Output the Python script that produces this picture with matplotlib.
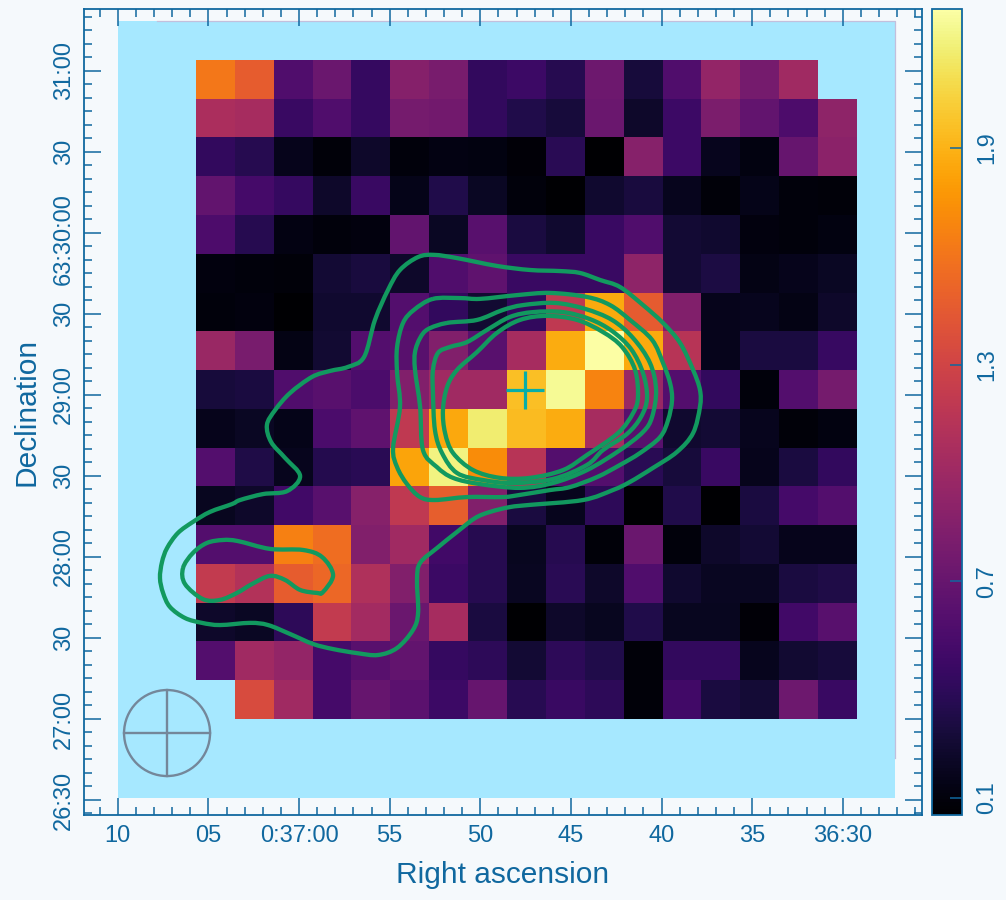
import numpy as np
import matplotlib
matplotlib.use('Agg')
import matplotlib.pyplot as plt
from matplotlib.patches import Ellipse, Rectangle, PathPatch
from matplotlib.path import Path
from matplotlib.transforms import ScaledTranslation

plt.rcParams['font.family'] = ['Liberation Sans', 'DejaVu Sans']

n = np.nan
# flux per cell, top row first
row00 = [1.62, 1.47, 0.58, 0.72, 0.44, 0.87, 0.80, 0.42, 0.48, 0.36, 0.74, 0.28, 0.58, 0.95, 0.78, 1.02, n]
row01 = [1.08, 1.05, 0.46, 0.58, 0.44, 0.78, 0.76, 0.42, 0.34, 0.28, 0.72, 0.22, 0.48, 0.82, 0.68, 0.56, 0.92]
row02 = [0.42, 0.36, 0.16, 0.09, 0.22, 0.10, 0.13, 0.12, 0.08, 0.38, 0.05, 0.88, 0.48, 0.17, 0.12, 0.70, 0.90]
row03 = [0.68, 0.52, 0.44, 0.22, 0.46, 0.15, 0.34, 0.20, 0.10, 0.05, 0.24, 0.29, 0.17, 0.09, 0.15, 0.10, 0.09]
row04 = [0.56, 0.36, 0.13, 0.10, 0.11, 0.68, 0.20, 0.62, 0.30, 0.24, 0.46, 0.58, 0.26, 0.24, 0.11, 0.10, 0.12]
row05 = [0.11, 0.10, 0.09, 0.26, 0.29, 0.22, 0.58, 0.66, 0.46, 0.46, 0.46, 0.92, 0.26, 0.31, 0.14, 0.16, 0.20]
row06 = [0.10, 0.11, 0.05, 0.24, 0.24, 0.60, 0.42, 0.25, 0.42, 1.20, 1.86, 1.46, 0.85, 0.16, 0.17, 0.14, 0.22]
row07 = [0.98, 0.80, 0.14, 0.25, 0.60, 0.62, 0.85, 0.62, 1.05, 1.87, 2.28, 1.86, 1.15, 0.16, 0.30, 0.30, 0.45]
row08 = [0.28, 0.30, 0.58, 0.62, 0.55, 0.85, 1.02, 1.02, 1.96, 2.25, 1.68, 0.98, 0.60, 0.42, 0.10, 0.60, 0.78]
row09 = [0.16, 0.20, 0.15, 0.55, 0.66, 1.20, 1.85, 2.17, 1.94, 1.87, 1.05, 0.62, 0.24, 0.26, 0.17, 0.09, 0.12]
row10 = [0.60, 0.33, 0.17, 0.35, 0.38, 1.84, 2.20, 1.72, 1.15, 0.60, 0.60, 0.38, 0.28, 0.46, 0.16, 0.30, 0.42]
row11 = [0.18, 0.22, 0.50, 0.62, 0.88, 1.20, 1.48, 0.85, 0.30, 0.17, 0.40, 0.05, 0.34, 0.05, 0.30, 0.52, 0.60]
row12 = [0.60, 0.60, 1.66, 1.57, 0.85, 1.02, 0.50, 0.36, 0.18, 0.36, 0.09, 0.72, 0.10, 0.22, 0.26, 0.16, 0.16]
row13 = [1.22, 1.12, 1.47, 1.53, 1.10, 0.85, 0.47, 0.36, 0.19, 0.38, 0.22, 0.58, 0.24, 0.19, 0.19, 0.30, 0.33]
row14 = [0.22, 0.20, 0.40, 1.22, 1.03, 0.72, 1.05, 0.30, 0.05, 0.22, 0.18, 0.34, 0.18, 0.18, 0.08, 0.50, 0.62]
row15 = [0.60, 1.02, 0.95, 0.52, 0.62, 0.68, 0.44, 0.40, 0.26, 0.40, 0.34, 0.09, 0.42, 0.42, 0.17, 0.25, 0.28]
row16 = [n, 1.36, 1.02, 0.52, 0.70, 0.64, 0.48, 0.70, 0.37, 0.46, 0.40, 0.09, 0.50, 0.30, 0.27, 0.74, 0.46]
flux = np.array([row00, row01, row02, row03, row04, row05, row06, row07, row08, row09,
                 row10, row11, row12, row13, row14, row15, row16])

# contours: RA in seconds from 0:37:00, Dec in arcsec from 63:26:30
c1_ra = [-4.91, -5.57, -6.57, -7.45, -8.72, -10.92, -12.74, -14.40, -15.50, -16.61, -17.71, -18.98, -20.08,
         -21.02, -21.74, -22.12, -22.12, -21.74, -20.85, -19.53, -18.26, -17.32, -15.67, -12.74, -11.64,
         -10.54, -9.71, -8.72, -7.61, -6.68, -6.51, -6.57, -6.29, -5.41, -4.36, -3.20, -1.88, -0.77, 0.50,
         1.71, 2.70, 4.36, 5.35, 6.29, 7.12, 7.50, 7.67, 7.56, 7.28, 6.68, 5.85, 4.91, 3.70, 3.25, 1.99,
         0.66, -0.06, 0.77, 1.54, 1.77, 1.32, 0.50, -0.72, -1.71, -2.70, -3.59, -4.19, -4.91]
c1_dec = [188.9, 196.3, 201.1, 201.9, 200.7, 197.8, 196.3, 195.9, 195.2, 192.6, 190.0, 183.3, 176.7,
          169.3, 159.3, 151.9, 145.6, 135.9, 128.9, 123.0, 117.8, 114.8, 111.1, 109.3, 108.5,
          106.7, 104.4, 99.3, 93.3, 87.8, 81.5, 69.3, 63.0, 56.3, 53.7, 54.4, 55.9, 57.8, 61.5,
          64.8, 65.6, 64.8, 65.6, 67.4, 71.5, 76.7, 82.2, 88.1, 93.3, 98.9, 103.0, 106.7, 109.6, 111.1, 113.3,
          114.4, 120.0, 126.7, 132.6, 138.9, 144.4, 150.7, 156.7, 158.9, 160.4, 164.1, 177.8, 188.9]
c2_ra = [-7.39, -8.88, -9.99, -12.03, -13.85, -15.89, -17.16, -18.26, -19.48, -20.08, -20.47, -20.58, -20.36,
         -19.92, -18.81, -17.71, -16.44, -14.95, -13.85, -12.19, -11.25, -9.27, -7.50, -6.68, -5.96, -5.41,
         -5.19, -5.57, -5.41, -5.41, -5.74, -6.34, -7.39]
c2_dec = [185.6, 185.9, 185.6, 187.0, 187.8, 186.3, 183.3, 177.8, 170.4, 161.9, 154.4, 148.1, 140.7,
          134.4, 128.5, 124.1, 119.6, 115.9, 114.8, 113.0, 112.2, 112.2, 111.1, 112.2, 117.0, 123.3,
          130.4, 145.6, 158.1, 167.8, 176.7, 181.5, 185.6]
c3_ra = [-8.17, -9.82, -11.25, -12.36, -14.12, -15.78, -17.27, -18.43, -19.36, -19.70, -19.48, -18.98, -17.71,
         -15.89, -14.01, -12.19, -9.99, -8.50, -7.61, -6.84, -6.68, -6.40, -6.40, -6.68, -7.12, -8.17]
c3_dec = [176.7, 177.8, 181.5, 183.3, 184.1, 181.9, 177.8, 171.1, 161.9, 151.9, 141.9, 136.3, 129.6,
          122.2, 117.4, 115.6, 117.0, 119.3, 123.3, 129.6, 145.6, 159.3, 165.9, 171.1, 174.4, 176.7]
c4_ra = [-8.33, -9.27, -10.37, -11.64, -12.91, -14.57, -16.05, -17.27, -18.32, -18.98, -19.20, -18.87, -18.10,
         -16.77, -15.89, -14.01, -11.81, -10.15, -8.72, -7.89, -7.50, -7.39, -7.39, -7.67, -8.33]
c4_dec = [167.8, 169.6, 174.1, 178.9, 180.7, 180.7, 178.1, 173.7, 167.0, 158.1, 148.9, 141.9, 135.6,
          129.6, 124.1, 118.9, 117.4, 118.5, 121.1, 128.5, 137.0, 150.7, 159.3, 165.6, 167.8]
c5_ra = [-8.72, -9.82, -10.92, -12.19, -13.68, -15.34, -16.77, -17.82, -18.54, -18.70, -18.43, -17.60, -15.89,
         -14.57, -12.74, -11.09, -9.60, -8.50, -8.06, -7.94, -8.17, -8.72]
c5_dec = [159.3, 165.9, 173.0, 177.8, 179.3, 177.8, 173.3, 167.8, 159.3, 149.3, 143.3, 135.9, 127.8,
          122.2, 119.3, 119.3, 122.2, 128.5, 135.9, 144.4, 153.0, 159.3]
c6_ra = [6.40, 5.85, 5.08, 4.19, 3.37, 1.60, -0.22, -1.27, -1.88, -1.32, -0.99, -0.06, 0.77, 1.60, 2.59,
         3.42, 4.36, 5.30, 6.29, 6.40]
c6_dec = [85.9, 91.5, 95.2, 96.3, 95.9, 93.0, 92.6, 90.0, 83.3, 77.0, 76.7, 77.8, 81.5, 83.0, 80.0,
          76.7, 74.1, 74.4, 80.0, 85.9]
contours = [(c1_ra, c1_dec), (c2_ra, c2_dec), (c3_ra, c3_dec), (c4_ra, c4_dec), (c5_ra, c5_dec), (c6_ra, c6_dec)]

source_ra = -12.47
source_dec = 151.85
beam_ra = 7.28
beam_dec = 24.8
beam_width = 4.745
beam_height = 31.85

x_ticks = [10, 5, 0, -5, -10, -15, -20, -25, -30]
x_labels = ['10', '05', '0:37:00', '55', '50', '45', '40', '35', '36:30']
y_ticks = [0, 30, 60, 90, 120, 150, 180, 210, 240, 270]
y_labels = ['26:30', '27:00', '30', '28:00', '30', '29:00', '30', '63:30:00', '30', '31:00']
cbar_ticks = [0.1, 0.7, 1.3, 1.9]

BLUE = '#10689f'
BG = '#f5f9fc'
W, H = 1006, 900


def closed_curve(ra, dec):
    # bezier path through a closed list of read points
    pts = np.column_stack([ra[:-1], dec[:-1]])
    tang = (np.roll(pts, -1, axis=0) - np.roll(pts, 1, axis=0)) / 6
    verts = [pts[0]]
    codes = [Path.MOVETO]
    for i in range(len(pts)):
        j = (i + 1) % len(pts)
        verts += [pts[i] + tang[i], pts[j] - tang[j], pts[j]]
        codes += [Path.CURVE4] * 3
    return Path(verts, codes)


fig = plt.figure(figsize=(W / 100, H / 100), dpi=100, facecolor=BG)
ax = fig.add_axes([84 / W, 1 - 815 / H, (922 - 84) / W, (815 - 9) / H], facecolor=BG)

# sky footprint and image
ax.add_patch(Rectangle((10, 0.74), -42.88, 287.8, fc='#a6e8ff', ec='none', zorder=0))
ax.plot([7.85, -32.88, -32.88], [288.5, 288.5, 15.5], color='#c3bfdc', lw=0.9, zorder=0.5)
im = ax.imshow(flux, cmap='inferno', vmin=0.053, vmax=2.285, extent=(5.683, -30.73, 30.0, 274.07),
               origin='upper', interpolation='nearest', aspect='auto', zorder=1)

for ra, dec in contours:
    ax.add_patch(PathPatch(closed_curve(ra, dec), fc='none', ec='#12995f', lw=3.1, joinstyle='round', zorder=3))

ax.plot([source_ra], [source_dec], marker='+', ms=27, mew=2.3, color='#08aea8', zorder=4)

ax.add_patch(Ellipse((beam_ra, beam_dec), beam_width, beam_height, fc='none', ec='#74879a', lw=1.7, zorder=2))
ax.plot([beam_ra + beam_width / 2, beam_ra - beam_width / 2], [beam_dec, beam_dec], color='#74879a', lw=1.7, zorder=2)
ax.plot([beam_ra, beam_ra], [beam_dec - beam_height / 2, beam_dec + beam_height / 2], color='#74879a', lw=1.7, zorder=2)

ax.set_xlim(11.862, -34.37)
ax.set_ylim(-5.556, 292.96)
ax.set_xticks(x_ticks)
ax.set_xticklabels(x_labels)
ax.set_yticks(y_ticks)
ax.set_yticklabels(y_labels, rotation=90, va='center')
ax.set_xticks(np.arange(-34, 12, 1), minor=True)
ax.set_yticks(np.arange(-5, 293, 5), minor=True)
ax.tick_params(which='major', direction='in', top=True, right=True, length=12, width=1.1, color=BLUE,
               labelcolor=BLUE, labelsize=17)
ax.tick_params(which='minor', direction='in', top=True, right=True, length=6, width=1.1, color=BLUE)
ax.tick_params(axis='x', which='major', pad=7.5)
ax.tick_params(axis='y', which='major', pad=6.5)
for s in ax.spines.values():
    s.set_color(BLUE)
    s.set_linewidth(1.3)
ax.set_xlabel('Right ascension', color=BLUE, fontsize=21.5, labelpad=10)
ax.set_ylabel('Declination', color=BLUE, fontsize=21.5, labelpad=9)

# the long label sits a little lower than its tick
lab = ax.get_yticklabels()[7]
lab.set_transform(lab.get_transform() + ScaledTranslation(0, -6 / 100, fig.dpi_scale_trans))

cax = fig.add_axes([932 / W, 1 - 815 / H, 30 / W, (815 - 9) / H])
cb = fig.colorbar(im, cax=cax)
cb.set_ticks(cbar_ticks)
cb.set_ticklabels(['0.1', '0.7', '1.3', '1.9'])
cax.tick_params(direction='in', length=9, width=1.1, color=BLUE, labelcolor=BLUE, labelsize=17, pad=10)
for lab in cax.get_yticklabels():
    lab.set_rotation(90)
    lab.set_va('center')
cb.outline.set_edgecolor(BLUE)
cb.outline.set_linewidth(1.3)

fig.savefig('out.png', dpi=100, facecolor=BG)
